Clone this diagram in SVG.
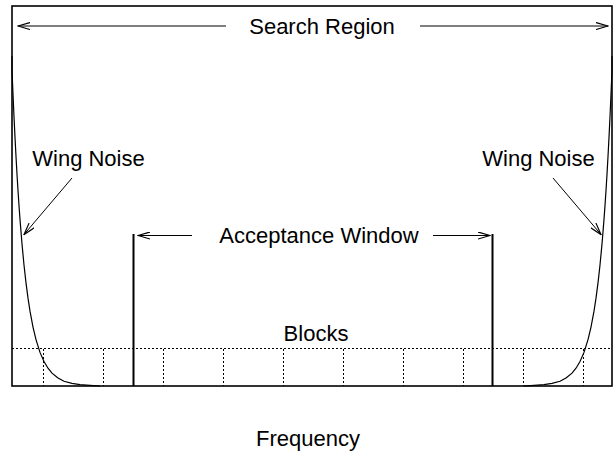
<svg xmlns="http://www.w3.org/2000/svg" width="616" height="454" viewBox="0 0 616 454">
<style>
text{font-family:"Liberation Sans",Arial,sans-serif;font-size:22px;fill:#000;text-anchor:middle}
.ln{stroke:#000;stroke-width:1;fill:none}
.dot{stroke:#000;stroke-width:1;stroke-dasharray:2 2;fill:none}
.win{stroke:#000;stroke-width:2;fill:none}
.crv{stroke:#000;stroke-width:1.2;fill:none}
</style>
<defs>
<marker id="ah" markerUnits="userSpaceOnUse" viewBox="0 0 13 8" markerWidth="13" markerHeight="8" refX="12" refY="4" orient="auto">
<path d="M0,0.5 L12,4 L0,7.5" fill="none" stroke="#000" stroke-width="1.2"/>
</marker>
</defs>
<g id="frame">
<rect x="12" y="6" width="600" height="380" fill="none" stroke="#000" stroke-width="1.6"/>
</g>
<g id="wing-curves">
<path class="crv" d="M12,56 L12,70 L13,94.3 L14,116.7 L15,137.4 L16,156.5 L17,174.2 L18,190.5 L19,205.5 L20,219.4 L22,244 L24,265 L26,282.9 L28,298.2 L30,311.2 L33,327.1 L36,339.6 L40,352.4 L44,361.5 L48,368.2 L52,373.1 L58,378 L64,381.3 L72,383.4 L80,384.6 L90,385.4 L100,386"/>
<path class="crv" d="M612,56 L612,70 L611,94.3 L610,116.7 L609,137.4 L608,156.5 L607,174.2 L606,190.5 L605,205.5 L604,219.4 L602,244 L600,265 L598,282.9 L596,298.2 L594,311.2 L591,327.1 L588,339.6 L584,352.4 L580,361.5 L576,368.2 L572,373.1 L566,378 L560,381.3 L552,383.4 L544,384.6 L534,385.4 L524,386"/>
</g>
<g id="blocks">
<path class="dot" d="M12,348.5 H612"/>
<path class="dot" d="M43.5,349 V386 M103.5,349 V386 M163.5,349 V386 M223.5,349 V386 M283.5,349 V386 M343.5,349 V386 M403.5,349 V386 M463.5,349 V386 M523.5,349 V386 M583.5,349 V386"/>
<text x="316" y="341">Blocks</text>
</g>
<g id="acceptance-window">
<path class="win" d="M133.5,234 V386 M492.5,234 V386"/>
<text x="319" y="243">Acceptance Window</text>
</g>
<g id="search-region">
<text x="322" y="34">Search Region</text>
</g>
<g id="wing-noise-left">
<text x="88.5" y="166">Wing Noise</text>
</g>
<g id="wing-noise-right">
<text x="538.5" y="166">Wing Noise</text>
</g>
<g id="frequency">
<text x="308" y="446">Frequency</text>
</g>
<g id="connectors">
<line class="ln" x1="226" y1="26" x2="18" y2="26" marker-end="url(#ah)"/>
<line class="ln" x1="420" y1="26" x2="608" y2="26" marker-end="url(#ah)"/>
<line class="ln" x1="192" y1="235.5" x2="138" y2="235.5" marker-end="url(#ah)"/>
<line class="ln" x1="433" y1="235.5" x2="490" y2="235.5" marker-end="url(#ah)"/>
<line class="ln" x1="72" y1="178" x2="24" y2="234.5" marker-end="url(#ah)"/>
<line class="ln" x1="553" y1="178" x2="601" y2="234.5" marker-end="url(#ah)"/>
</g>
</svg>
